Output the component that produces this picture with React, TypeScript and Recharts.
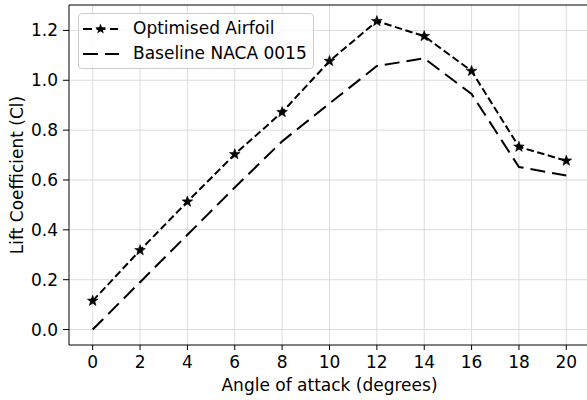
import React from 'react'
import { LineChart, Line, XAxis, YAxis, CartesianGrid, Legend, ReferenceLine } from 'recharts'

// angle of attack (degrees) and lift coefficients
const angles = [0, 2, 4, 6, 8, 10, 12, 14, 16, 18, 20]
const optimised = [0.115, 0.318, 0.513, 0.703, 0.872, 1.077, 1.237, 1.177, 1.037, 0.733, 0.677]
const baseline = [0.0, 0.19, 0.38, 0.57, 0.755, 0.907, 1.057, 1.088, 0.945, 0.652, 0.618]

const xTicks = [0, 2, 4, 6, 8, 10, 12, 14, 16, 18, 20]
const yTicks = [0, 0.2, 0.4, 0.6, 0.8, 1.0, 1.2]
const xDomain = [-1, 21]
const yDomain = [-0.062, 1.302]

const optName = 'Optimised Airfoil'
const baseName = 'Baseline NACA 0015'
const legendOrder = ['optimised', 'baseline']

const chartData = angles.map((a, i) => ({
	angle: a,
	optimised: optimised[i],
	baseline: baseline[i],
}))

const FONT = "'DejaVu Sans', sans-serif"
const OPT_DASH = '7.5 3.5'
const BASE_DASH = '15 7'

// star marker path around (cx, cy)
const starPath = (cx: number, cy: number, R = 5.6, r = 2.3) => {
	let d = ''
	for (let k = 0; k < 10; k++) {
		const rad = k % 2 === 0 ? R : r
		const ang = -Math.PI / 2 + (k * Math.PI) / 5
		d += (k === 0 ? 'M' : 'L') + (cx + rad * Math.cos(ang)).toFixed(2) + ',' + (cy + rad * Math.sin(ang)).toFixed(2)
	}
	return d + 'Z'
}

const StarDot = (props: any) => {
	const { cx, cy, index } = props
	if (cx == null || cy == null) return <g key={`s-${index}`} />
	return <path key={`s-${index}`} d={starPath(cx, cy)} fill='#000' stroke='#000' strokeWidth={0.6} />
}

const renderLegend = (props: any) => {
	// recharts sorts legend entries by name, put them back in plotting order
	const items = [...(props.payload || [])].sort(
		(a: any, b: any) => legendOrder.indexOf(a.dataKey) - legendOrder.indexOf(b.dataKey)
	)
	return (
		<div
			style={{
				boxSizing: 'border-box',
				width: 236,
				height: 56,
				padding: '2px 0 0 4px',
				border: '1px solid #cccccc',
				borderRadius: 4,
				background: 'rgba(255,255,255,0.8)',
				fontFamily: FONT,
				fontSize: 17,
				color: '#000',
			}}
		>
			{items.map((it: any) => (
				<div key={it.value} style={{ display: 'flex', alignItems: 'center', height: 25 }}>
					<svg width={36} height={14} style={{ marginRight: 14 }}>
						{it.dataKey === 'optimised' ? (
							<>
								<line x1={0} y1={7} x2={35} y2={7} stroke='#000' strokeWidth={2} strokeDasharray='9 4.5' />
								<path d={starPath(17.5, 7)} fill='#000' />
							</>
						) : (
							<line x1={0} y1={7} x2={36} y2={7} stroke='#000' strokeWidth={2} strokeDasharray={BASE_DASH} />
						)}
					</svg>
					<span style={{ lineHeight: '25px', whiteSpace: 'nowrap' }}>{it.value}</span>
				</div>
			))}
		</div>
	)
}

const YLabel = (props: any) => {
	const vb = props.viewBox || { x: 0, y: 5, width: 69, height: 340 }
	const x = vb.x + 23
	const y = vb.y + vb.height / 2
	return (
		<text x={x} y={y} transform={`rotate(-90, ${x}, ${y})`} textAnchor='middle' fontSize={17} fill='#000' fontFamily={FONT}>
			Lift Coefficient (Cl)
		</text>
	)
}

const App: React.FC = () => {
	return (
		<div
			style={{
				position: 'absolute',
				left: 0,
				top: 0,
				width: 587,
				height: 400,
				overflow: 'hidden',
				background: '#fff',
				fontFamily: FONT,
			}}
		>
			<LineChart width={590} height={400} data={chartData} margin={{ top: 5, right: 0, bottom: 0, left: 0 }}>
				<CartesianGrid stroke='#dcdcdc' strokeWidth={1} horizontalValues={yTicks} verticalValues={xTicks} />
				<XAxis
					type='number'
					dataKey='angle'
					domain={xDomain}
					ticks={xTicks}
					allowDataOverflow
					height={55}
					stroke='#000'
					tickSize={5}
					tickMargin={6}
					tick={{ fontSize: 17, fill: '#000', fontFamily: FONT }}
					label={{ value: 'Angle of attack (degrees)', position: 'insideBottom', offset: 9, fontSize: 17, fill: '#000', fontFamily: FONT }}
				/>
				<YAxis
					type='number'
					domain={yDomain}
					ticks={yTicks}
					allowDataOverflow
					width={69}
					stroke='#000'
					tickSize={6}
					tickMargin={5}
					tick={{ fontSize: 17, fill: '#000', fontFamily: FONT }}
					tickFormatter={(v: number) => v.toFixed(1)}
					label={<YLabel />}
				/>
				<ReferenceLine y={yDomain[1]} stroke='#000' strokeWidth={1} />
				<ReferenceLine x={xDomain[1]} stroke='#000' strokeWidth={1} />
				<Legend
					layout='vertical'
					align='center'
					verticalAlign='middle'
					wrapperStyle={{ position: 'absolute', top: 13, left: 78, width: 236, height: 56 }}
					content={renderLegend}
				/>
				<Line
					type='linear'
					dataKey='optimised'
					name={optName}
					stroke='#000'
					strokeWidth={2}
					strokeDasharray={OPT_DASH}
					dot={StarDot}
					activeDot={false}
					isAnimationActive={false}
				/>
				<Line
					type='linear'
					dataKey='baseline'
					name={baseName}
					stroke='#000'
					strokeWidth={2}
					strokeDasharray={BASE_DASH}
					dot={false}
					activeDot={false}
					isAnimationActive={false}
				/>
			</LineChart>
		</div>
	)
}

export default App
